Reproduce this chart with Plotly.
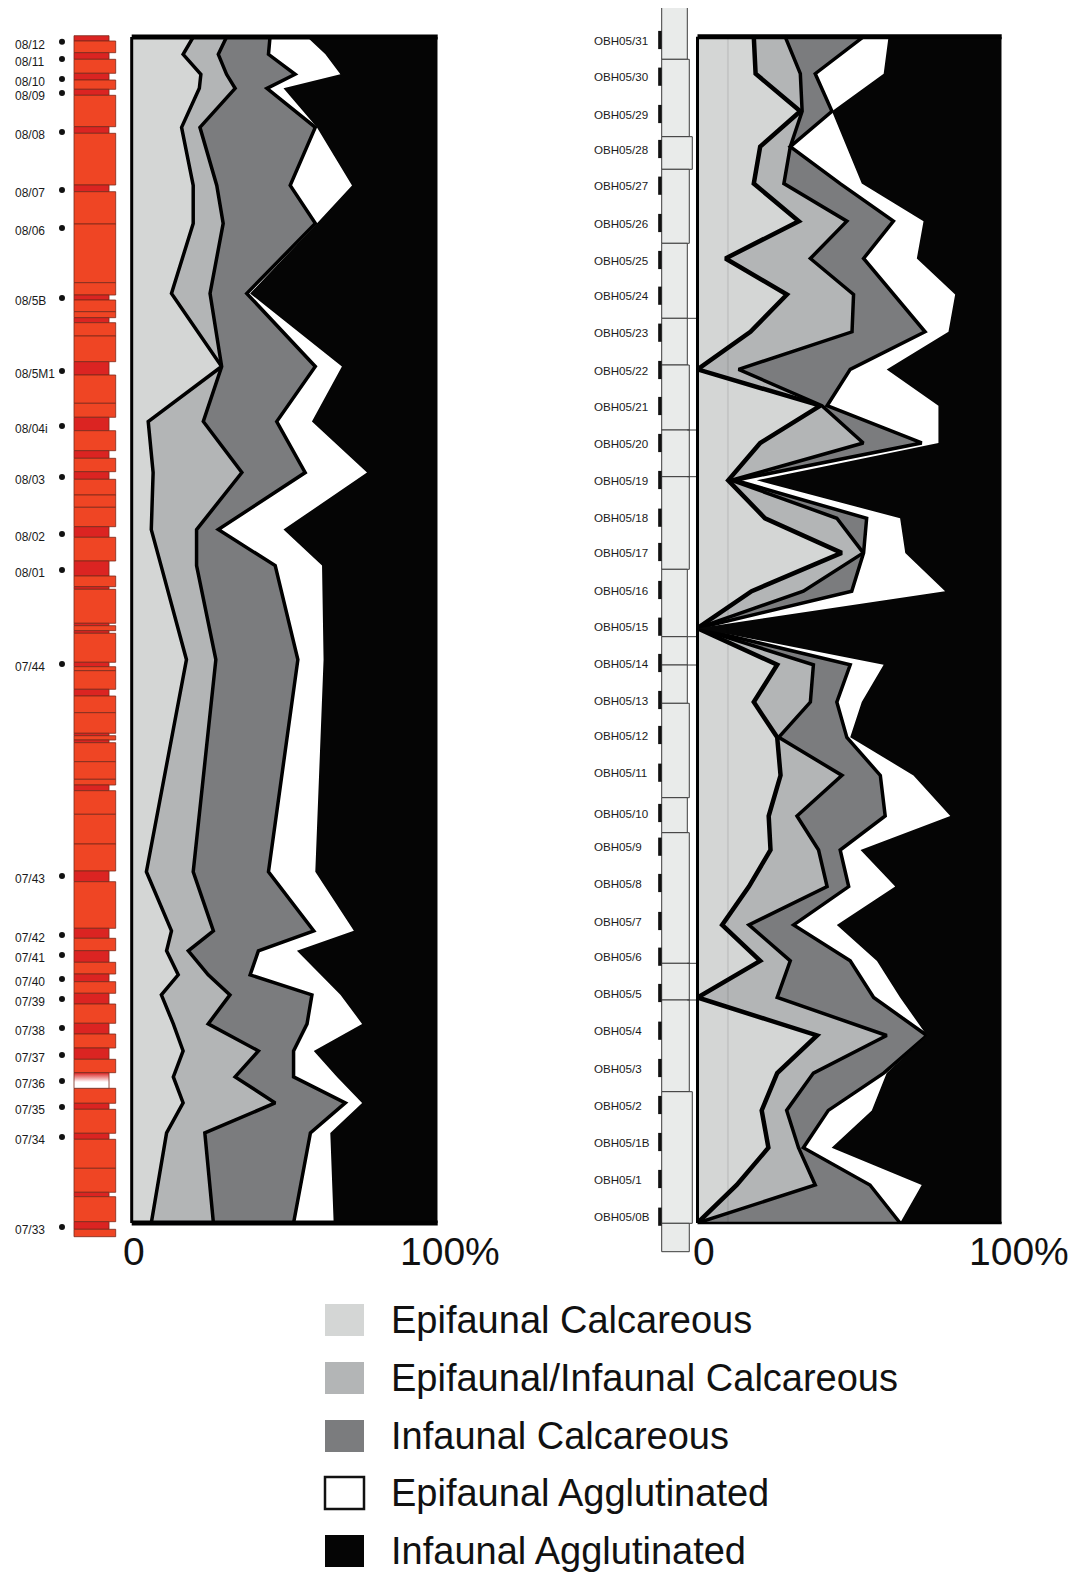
import plotly.graph_objects as go

W, H = 1076, 1574          # reference canvas
OFF = 8                    # page body margin of the html page
WF, HF = W - OFF, H - OFF  # figure size so the canvas lines up with the window

# ---------------- categories ----------------
categories = ["Epifaunal Calcareous", "Epifaunal/Infaunal Calcareous",
              "Infaunal Calcareous", "Epifaunal Agglutinated", "Infaunal Agglutinated"]
cat_colors = ["#D4D6D5", "#B3B5B6", "#7B7C7E", "#FFFFFF", "#050505"]

# ---------------- left section (samples 08/.. - 07/..) ----------------
left_samples = ["08/12", "08/11", "08/10", "08/09", "08/08", "08/07", "08/06", "08/5B",
                "08/5M1", "08/04i", "08/03", "08/02", "08/01", "07/44", "07/43", "07/42",
                "07/41", "07/40", "07/39", "07/38", "07/37", "07/36", "07/35", "07/34", "07/33"]
left_pos = [41.7, 59, 79, 93, 132, 190, 228, 298, 371, 426, 477, 534, 570, 664, 876, 935,
            955, 979, 999, 1028, 1055, 1081, 1107, 1137, 1227]
left_epi_calc = [20.1, 16.8, 22.6, 22.1, 16.3, 20.1, 20.1, 13.0, 29.4, 5.4, 7.0, 6.4, 9.6,
                 17.9, 4.8, 13.0, 11.4, 15.2, 9.7, 13.6, 16.8, 13.6, 16.8, 11.4, 6.4]
left_epiinf_calc = [10.9, 11.5, 8.4, 11.7, 6.0, 7.7, 9.8, 12.6, 0.0, 18.0, 29.0, 14.8, 11.6,
                    9.6, 15.3, 13.7, 7.1, 9.8, 22.4, 11.4, 24.6, 20.2, 30.1, 12.5, 20.3]
left_inf_calc = [14.2, 16.4, 22.4, 10.4, 37.7, 24.0, 30.1, 12.0, 30.6, 24.0, 20.7, 7.1, 25.7,
                 26.8, 24.6, 32.8, 22.9, 13.7, 26.8, 32.3, 11.5, 19.1, 22.9, 34.5, 26.2]
left_epi_agg = [12.1, 18.6, 14.8, 5.4, 0.5, 20.2, 0.5, 1.1, 8.7, 11.5, 20.2, 21.3, 15.3,
                8.4, 15.3, 13.1, 12.6, 22.9, 9.3, 18.0, 6.6, 14.2, 5.5, 6.5, 13.1]
left_inf_agg = [42.7, 36.7, 31.8, 50.4, 39.5, 28.0, 39.5, 61.3, 31.3, 41.1, 23.1, 50.4, 37.8,
                37.3, 40.0, 27.4, 46.0, 38.4, 31.8, 24.7, 40.5, 32.9, 24.7, 35.1, 34.0]

# lithology column (left): bed boundaries and bed type (F = full, N = narrow, G = graded)
left_bed_bounds = [35.7, 41.0, 52.7, 59.3, 73.3, 80.0, 89.3, 95.3, 126.7, 133.3, 185.0, 191.7,
                   224.0, 282.7, 295.0, 300.0, 311.7, 317.7, 322.7, 336.0, 361.7, 375.0, 403.3,
                   417.3, 430.7, 450.7, 458.3, 471.7, 479.3, 495.0, 507.3, 526.7, 537.3, 561.0,
                   576.0, 586.7, 589.3, 623.3, 625.7, 630.7, 633.3, 662.3, 666.7, 670.7, 689.3,
                   696.0, 712.7, 733.3, 735.7, 740.0, 742.7, 761.7, 779.3, 785.0, 790.7, 814.3,
                   844.0, 871.0, 881.7, 928.3, 938.3, 950.7, 962.3, 974.0, 981.7, 993.3, 1004.0,
                   1023.3, 1034.0, 1048.0, 1059.3, 1072.7, 1088.3, 1103.3, 1109.3, 1133.3,
                   1139.3, 1168.3, 1192.3, 1196.7, 1221.7, 1229.3, 1236.7]
left_bed_types = ["N", "F", "N", "F", "N", "F", "N", "F", "N", "F", "N", "F",
                  "F", "F", "N", "F", "F", "N", "F", "F", "N", "F", "F",
                  "N", "F", "N", "F", "N", "F", "F", "F", "N", "F",
                  "N", "F", "N", "F", "N", "F", "N", "F", "N", "F", "F",
                  "N", "F", "F", "N", "F", "N", "F", "F", "F", "N", "F",
                  "F", "F", "N", "F", "N", "F", "N", "F", "N", "F", "N",
                  "F", "N", "F", "N", "F", "G", "F", "N", "F",
                  "N", "F", "F", "N", "F", "N", "F"]

# ---------------- right section (OBH05) ----------------
right_samples = ["OBH05/31", "OBH05/30", "OBH05/29", "OBH05/28", "OBH05/27", "OBH05/26",
                 "OBH05/25", "OBH05/24", "OBH05/23", "OBH05/22", "OBH05/21", "OBH05/20",
                 "OBH05/19", "OBH05/18", "OBH05/17", "OBH05/16", "OBH05/15", "OBH05/14",
                 "OBH05/13", "OBH05/12", "OBH05/11", "OBH05/10", "OBH05/9", "OBH05/8",
                 "OBH05/7", "OBH05/6", "OBH05/5", "OBH05/4", "OBH05/3", "OBH05/2",
                 "OBH05/1B", "OBH05/1", "OBH05/0B"]
right_pos = [40, 76.7, 114, 149, 185.7, 223, 260, 295.7, 332.7, 370, 406, 443, 480, 517.7,
             552, 590, 626.7, 663, 700, 735, 772.7, 813, 846.7, 883, 921, 956.7, 993, 1030.7,
             1068, 1105, 1142, 1179, 1216.7]
right_epi_calc = [18.5, 19.1, 33.8, 20.6, 18.5, 33.3, 9.2, 29.4, 17.4, 0.0, 40.4, 20.6, 10.1,
                  22.2, 47.4, 17.8, 0.0, 26.2, 18.5, 26.2, 27.3, 23.4, 24.0, 16.9, 8.1, 20.6,
                  0.0, 39.3, 26.2, 21.1, 23.3, 12.9, 0.0]
right_epiinf_calc = [10.3, 14.7, 0.6, 9.9, 9.9, 15.8, 27.9, 21.9, 33.4, 13.5, 0.5, 33.9, 1.1,
                     23.6, 7.1, 17.0, 0.0, 11.9, 18.6, 0.5, 20.2, 9.3, 15.8, 25.7, 8.8, 9.9,
                     26.2, 22.9, 11.9, 8.2, 9.9, 25.8, 0.0]
right_inf_calc = [25.8, 4.9, 9.8, 0.0, 18.5, 15.3, 17.5, 13.1, 24.0, 36.7, 1.7, 19.2, 1.1,
                  9.8, 0.1, 15.9, 0.0, 12.1, 8.7, 22.4, 12.6, 29.0, 7.1, 7.1, 14.7, 19.7,
                  31.7, 13.2, 23.1, 13.7, 1.6, 18.0, 66.6]
right_epi_agg = [8.2, 22.5, 0.0, 18.6, 7.1, 9.9, 17.5, 20.3, 7.7, 12.0, 36.6, 5.5, 7.2,
                 11.0, 13.7, 30.7, 0.0, 11.0, 8.2, 1.1, 10.9, 21.4, 6.7, 15.3, 14.2, 8.8,
                 8.7, 0.0, 1.0, 14.3, 9.3, 17.0, 0.0]
right_inf_agg = [37.2, 38.8, 55.8, 50.9, 46.0, 25.7, 27.9, 15.3, 17.5, 37.8, 20.8, 20.8, 80.5,
                 33.4, 31.7, 18.6, 100.0, 38.8, 46.0, 49.8, 29.0, 16.9, 46.4, 35.0, 54.2, 41.0,
                 33.4, 24.6, 37.8, 42.7, 55.9, 26.3, 33.4]

# core column (right): bed boundaries and grain-size class (1 fine .. 3 coarse)
right_bed_bounds = [6, 59.3, 136.7, 169.3, 243.3, 318.3, 365, 430, 476.7, 569.3, 636.7, 665,
                    703.3, 797.7, 832.7, 963.3, 1000, 1091.7, 1223.3, 1251.7]
right_bed_class = [1, 2, 3, 2, 1, 1, 2, 2, 2, 1, 1, 1, 2, 1, 2, 2, 2, 3, 2]
right_unit_breaks = [318.3, 430, 476.7, 636.7, 665, 963.3, 1000]

# ---------------- geometry (reference pixels) ----------------
L_X0, L_X1, L_TOP, L_BOT = 131.7, 437.7, 37.0, 1223.0
R_X0, R_X1, R_TOP, R_BOT = 697.5, 1001.7, 36.7, 1223.0


def fx(px):
    return (px - OFF) / WF


def fy(py):
    return 1 - (py - OFF) / HF


fig = go.Figure()

left_series = [left_epi_calc, left_epiinf_calc, left_inf_calc, left_epi_agg, left_inf_agg]
right_series = [right_epi_calc, right_epiinf_calc, right_inf_calc, right_epi_agg, right_inf_agg]
left_lw = [3.5, 3.5, 3.5, 0, 0]
right_lw = [4.5, 3.5, 3.5, 0, 0]

for i, (name, col) in enumerate(zip(categories, cat_colors)):
    fig.add_trace(go.Scatter(
        x=left_series[i], y=left_pos, name=name, stackgroup="left", orientation="h",
        mode="lines", line=dict(color="#000000", width=left_lw[i]),
        fillcolor=col, xaxis="x", yaxis="y", showlegend=False, hoverinfo="skip"))
for i, (name, col) in enumerate(zip(categories, cat_colors)):
    fig.add_trace(go.Scatter(
        x=right_series[i], y=right_pos, name=name, stackgroup="right", orientation="h",
        mode="lines", line=dict(color="#000000", width=right_lw[i]),
        fillcolor=col, xaxis="x2", yaxis="y2", showlegend=False, hoverinfo="skip"))

# ---- left lithology column (x3/y3): unit 1 = full bed width
bed_w = {"F": 1.0, "N": 0.84, "G": 0.84}
bed_c = {"F": "#EF4524", "N": "#DB2422", "G": "#DB2422"}
tops, thick, widths, cols = [], [], [], []
for k, t in enumerate(left_bed_types):
    if t == "G":
        continue
    tops.append(left_bed_bounds[k])
    thick.append(left_bed_bounds[k + 1] - left_bed_bounds[k])
    widths.append(bed_w[t])
    cols.append(bed_c[t])
fig.add_trace(go.Bar(x=[0] * len(tops), y=thick, base=tops, width=widths, offset=0,
                     marker=dict(color=cols, line=dict(color="#7A2A1A", width=0.8)),
                     xaxis="x3", yaxis="y3", showlegend=False, hoverinfo="skip"))
for k, t in enumerate(left_bed_types):
    if t != "G":
        continue
    t0, t1 = left_bed_bounds[k], left_bed_bounds[k + 1]
    w = bed_w[t]
    fig.add_trace(go.Scatter(
        x=[0, w, w, 0, 0], y=[t0, t0, t1, t1, t0], mode="lines", fill="toself",
        line=dict(color="#7A2A1A", width=0.8),
        fillgradient=dict(type="vertical", start=t0, stop=t1,
                          colorscale=[[0, "#DB2422"], [0.6, "#FFFFFF"], [1, "#FFFFFF"]]),
        xaxis="x3", yaxis="y3", showlegend=False, hoverinfo="skip"))

# sample dots (left)
fig.add_trace(go.Scatter(x=[-0.288] * len(left_pos), y=left_pos, mode="markers",
                         marker=dict(color="#111111", size=6), xaxis="x3", yaxis="y3",
                         showlegend=False, hoverinfo="skip"))

# ---- right core column (x4/y4): unit 1 = base width
cls_w = {1: 1.0, 2: 1.078, 3: 1.195}
rt, rth, rw = [], [], []
for k, c in enumerate(right_bed_class):
    rt.append(right_bed_bounds[k])
    rth.append(right_bed_bounds[k + 1] - right_bed_bounds[k])
    rw.append(cls_w[c])
fig.add_trace(go.Bar(x=[0] * len(rt), y=rth, base=rt, width=rw, offset=0,
                     marker=dict(color="#E9EBEA", line=dict(color="#3C3C3C", width=1)),
                     xaxis="x4", yaxis="y4", showlegend=False, hoverinfo="skip"))
ux, uy = [], []
for b in right_unit_breaks:
    ux += [1.0, 1.34, None]
    uy += [b, b, None]
fig.add_trace(go.Scatter(x=ux, y=uy, mode="lines", line=dict(color="#3C3C3C", width=1),
                         xaxis="x4", yaxis="y4", showlegend=False, hoverinfo="skip"))
# sample ticks (right)
fig.add_trace(go.Scatter(x=[-0.07] * len(right_pos), y=right_pos, mode="markers",
                         marker=dict(symbol="line-ns", size=13,
                                     line=dict(color="#111111", width=3.5)),
                         xaxis="x4", yaxis="y4", showlegend=False, hoverinfo="skip"))

# ---- legend (x5/y5: reference-pixel axes)
leg_y = [1320, 1378, 1436, 1493, 1551]
shapes = []
for col, yy in zip(cat_colors, leg_y):
    shapes.append(dict(type="rect", xref="x5", yref="y5", x0=325, x1=364,
                       y0=yy - 16, y1=yy + 16, fillcolor=col,
                       line=dict(color="#111111" if col == "#FFFFFF" else col,
                                 width=2.5 if col == "#FFFFFF" else 0)))

annotations = []
left_font = dict(family="Liberation Sans, Arial", size=12, color="#1A1A1A")
right_font = dict(family="Liberation Sans, Arial", size=11.6, color="#1A1A1A")
for s, p in zip(left_samples, left_pos):
    annotations.append(dict(x=-1.463, y=p, xref="x3", yref="y3", text=s, showarrow=False,
                            xanchor="left", yanchor="middle", font=left_font, yshift=-3))
for s, p in zip(right_samples, right_pos):
    annotations.append(dict(x=-2.723, y=p, xref="x4", yref="y4", text=s, showarrow=False,
                            xanchor="left", yanchor="middle", font=right_font))
for name, yy in zip(categories, leg_y):
    annotations.append(dict(x=389, y=yy, xref="x5", yref="y5", text=name, showarrow=False,
                            xanchor="left", yanchor="middle",
                            font=dict(family="Liberation Sans, Arial", size=38, color="#111111")))
tick_font = dict(family="Liberation Sans, Arial", size=39, color="#111111")
ty = fy(1251)
for xr, s0, s1 in [("x", 2, 12), ("x2", 6, 17)]:
    annotations.append(dict(x=0, y=ty, xref=xr, yref="paper", text="0", showarrow=False,
                            xanchor="center", yanchor="middle", xshift=s0, font=tick_font))
    annotations.append(dict(x=100, y=ty, xref=xr, yref="paper", text="100%", showarrow=False,
                            xanchor="center", yanchor="middle", xshift=s1, font=tick_font))

for xr, yr, top_w, bot_w in [("x", "y", 5, 5), ("x2", "y2", 5, 2.5)]:
    shapes.append(dict(type="line", xref=f"{xr} domain", yref=f"{yr} domain",
                       x0=0, x1=1, y0=1, y1=1, line=dict(color="#000", width=top_w)))
    shapes.append(dict(type="line", xref=f"{xr} domain", yref=f"{yr} domain",
                       x0=0, x1=1, y0=0, y1=0, line=dict(color="#000", width=bot_w)))
    shapes.append(dict(type="line", xref=f"{xr} domain", yref=f"{yr} domain",
                       x0=0, x1=0, y0=0, y1=1, line=dict(color="#000", width=3)))
shapes.append(dict(type="line", xref="x2", yref="y2 domain", x0=10, x1=10, y0=0, y1=1,
                   line=dict(color="rgba(0,0,0,0.07)", width=2)))

hid = dict(visible=False, showgrid=False, zeroline=False, fixedrange=True)
fig.update_layout(
    width=WF, height=HF, margin=dict(l=0, r=0, t=0, b=0),
    paper_bgcolor="white", plot_bgcolor="rgba(0,0,0,0)", barmode="overlay",
    showlegend=False, annotations=annotations, shapes=shapes,
    xaxis=dict(domain=[fx(L_X0), fx(L_X1)], range=[0, 100], anchor="y", **hid),
    yaxis=dict(domain=[fy(L_BOT), fy(L_TOP)], range=[left_pos[-1], left_pos[0]],
               anchor="x", **hid),
    xaxis2=dict(domain=[fx(R_X0), fx(R_X1)], range=[0, 100], anchor="y2", **hid),
    yaxis2=dict(domain=[fy(R_BOT), fy(R_TOP)], range=[right_pos[-1], right_pos[0]],
                anchor="x2", **hid),
    xaxis3=dict(domain=[0, fx(118)], range=[(OFF - 74) / 41.7, 44 / 41.7], anchor="y3", **hid),
    yaxis3=dict(domain=[0, 1], range=[H, OFF], anchor="x3", **hid),
    xaxis4=dict(domain=[fx(588), fx(696)], range=[-2.879, 1.34], anchor="y4", **hid),
    yaxis4=dict(domain=[0, 1], range=[H, OFF], anchor="x4", **hid),
    xaxis5=dict(domain=[fx(300), 1], range=[300, W], anchor="y5", **hid),
    yaxis5=dict(domain=[0, fy(1290)], range=[H, 1290], anchor="x5", **hid),
)

fig.write_html("out.html")
